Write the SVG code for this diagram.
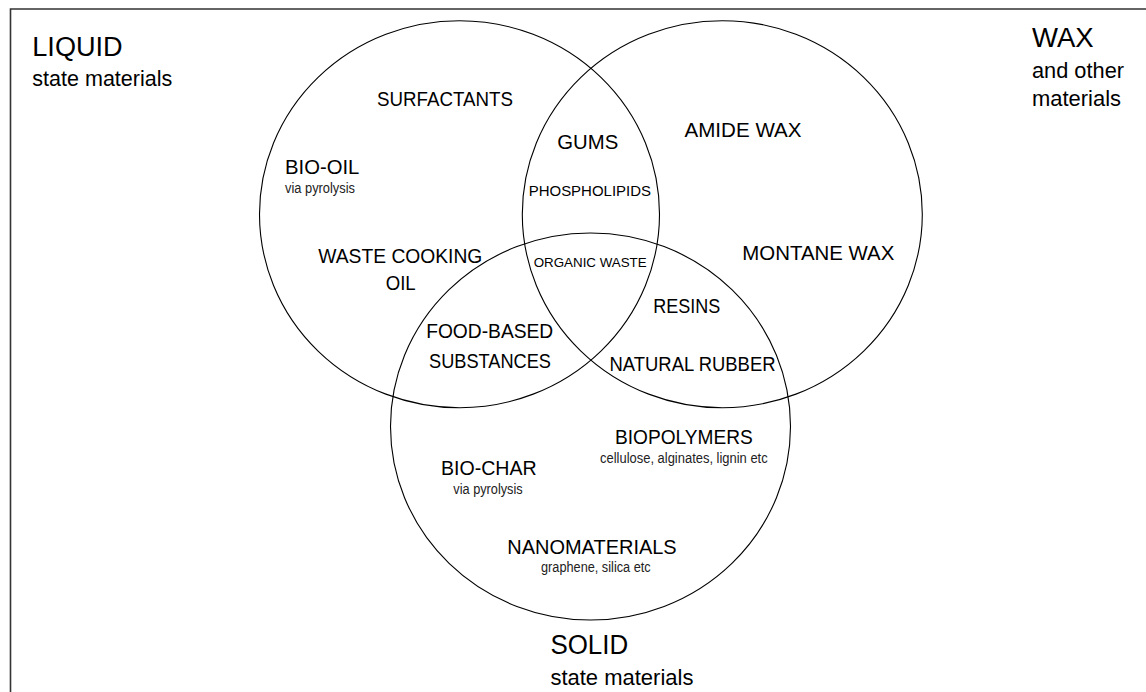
<svg xmlns="http://www.w3.org/2000/svg" width="1146" height="692" viewBox="0 0 1146 692">
<style>
text{font-family:"Liberation Sans",Arial,sans-serif;fill:#000}
.big{font-size:27px}
.sub{font-size:21.5px}
.lbl{font-size:21px}
.mid{font-size:15.5px}
.sm{font-size:14px;fill:#222}
.org{font-size:13.5px}
.ring{fill:none;stroke:#000;stroke-width:1.1}
.frame{fill:none;stroke:#333;stroke-width:1.6}
</style>
<rect x="0" y="0" width="1146" height="692" fill="#fff"/>
<path class="frame" d="M10.5,692 V9 H1146"/>
<g id="connectors"></g>
<g id="liquid">
<ellipse class="ring" cx="459.5" cy="214.2" rx="200" ry="193.5"/>
<text class="big" x="32.3" y="56.3" textLength="90.4" lengthAdjust="spacingAndGlyphs">LIQUID</text>
<text class="sub" x="32.3" y="86" textLength="140" lengthAdjust="spacingAndGlyphs">state materials</text>
</g>
<g id="wax">
<ellipse class="ring" cx="722.3" cy="214.2" rx="200" ry="193.5"/>
<text class="big" x="1032" y="46.7" textLength="61.7" lengthAdjust="spacingAndGlyphs">WAX</text>
<text class="sub" x="1032" y="78" textLength="92" lengthAdjust="spacingAndGlyphs">and other</text>
<text class="sub" x="1032" y="106" textLength="89" lengthAdjust="spacingAndGlyphs">materials</text>
</g>
<g id="solid">
<ellipse class="ring" cx="590.5" cy="426.5" rx="200" ry="193.5"/>
<text class="big" x="550.4" y="654.3" textLength="77.8" lengthAdjust="spacingAndGlyphs">SOLID</text>
<text class="sub" x="550.4" y="684.5" textLength="143" lengthAdjust="spacingAndGlyphs">state materials</text>
</g>
<g id="surfactants"><text class="lbl" x="377" y="106" textLength="136" lengthAdjust="spacingAndGlyphs">SURFACTANTS</text></g>
<g id="bio-oil">
<text class="lbl" x="285" y="174.3" textLength="74.3" lengthAdjust="spacingAndGlyphs">BIO-OIL</text>
<text class="sm" x="285" y="193" textLength="70" lengthAdjust="spacingAndGlyphs">via pyrolysis</text>
</g>
<g id="gums"><text class="lbl" x="557.3" y="149.3" textLength="61" lengthAdjust="spacingAndGlyphs">GUMS</text></g>
<g id="phospholipids"><text class="mid" x="528.7" y="195.8" textLength="122.3" lengthAdjust="spacingAndGlyphs">PHOSPHOLIPIDS</text></g>
<g id="amide-wax"><text class="lbl" x="684.5" y="136.7" textLength="117" lengthAdjust="spacingAndGlyphs">AMIDE WAX</text></g>
<g id="waste-cooking-oil">
<text class="lbl" x="318.3" y="262.5" textLength="164" lengthAdjust="spacingAndGlyphs">WASTE COOKING</text>
<text class="lbl" x="385.7" y="290" textLength="30" lengthAdjust="spacingAndGlyphs">OIL</text>
</g>
<g id="organic-waste"><text class="org" x="533.7" y="266.7" textLength="113" lengthAdjust="spacingAndGlyphs">ORGANIC WASTE</text></g>
<g id="montane-wax"><text class="lbl" x="742.3" y="259.5" textLength="152" lengthAdjust="spacingAndGlyphs">MONTANE WAX</text></g>
<g id="resins"><text class="lbl" x="653.3" y="313.3" textLength="67" lengthAdjust="spacingAndGlyphs">RESINS</text></g>
<g id="food-based">
<text class="lbl" x="426.2" y="338" textLength="127" lengthAdjust="spacingAndGlyphs">FOOD-BASED</text>
<text class="lbl" x="429" y="367.5" textLength="122" lengthAdjust="spacingAndGlyphs">SUBSTANCES</text>
</g>
<g id="natural-rubber"><text class="lbl" x="609.5" y="371" textLength="166" lengthAdjust="spacingAndGlyphs">NATURAL RUBBER</text></g>
<g id="biopolymers">
<text class="lbl" x="615" y="444.3" textLength="137.7" lengthAdjust="spacingAndGlyphs">BIOPOLYMERS</text>
<text class="sm" x="600" y="463.3" textLength="167.7" lengthAdjust="spacingAndGlyphs">cellulose, alginates, lignin etc</text>
</g>
<g id="bio-char">
<text class="lbl" x="441" y="475" textLength="95.7" lengthAdjust="spacingAndGlyphs">BIO-CHAR</text>
<text class="sm" x="453.3" y="494" textLength="69.4" lengthAdjust="spacingAndGlyphs">via pyrolysis</text>
</g>
<g id="nanomaterials">
<text class="lbl" x="507.3" y="554" textLength="169.4" lengthAdjust="spacingAndGlyphs">NANOMATERIALS</text>
<text class="sm" x="541" y="572.3" textLength="109.7" lengthAdjust="spacingAndGlyphs">graphene, silica etc</text>
</g>
</svg>
